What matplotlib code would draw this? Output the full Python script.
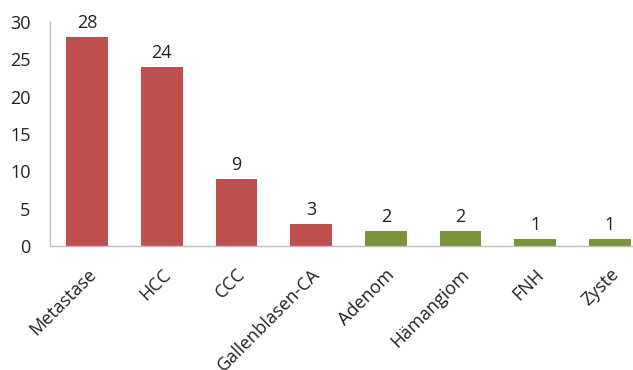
import matplotlib
matplotlib.use("Agg")
import matplotlib.pyplot as plt
from matplotlib.transforms import ScaledTranslation

categories = ["Metastase", "HCC", "CCC", "Gallenblasen-CA", "Adenom", "Hämangiom", "FNH", "Zyste"]
values = [28, 24, 9, 3, 2, 2, 1, 1]
colors = ["#C0504D", "#C0504D", "#C0504D", "#C0504D", "#77933C", "#77933C", "#77933C", "#77933C"]
yticks = [0, 5, 10, 15, 20, 25, 30]

plt.rcParams['font.family'] = ['Open Sans', 'DejaVu Sans']

fig = plt.figure(figsize=(6.33, 3.70), dpi=100)
ax = fig.add_axes([50/633, 124/370, 597/633, 224/370])
x = list(range(len(categories)))
bars = ax.bar(x, values, width=0.56, color=colors, zorder=2)
for xi, v in zip(x, values):
    ax.annotate(str(v), (xi, v), xytext=(0, 3.5), textcoords="offset points",
                ha="center", va="bottom", fontsize=13, color="#222222")
ax.set_xlim(-0.5, len(categories) - 0.5)
ax.set_ylim(0, 30)
ax.set_yticks(yticks)
ax.set_yticklabels([str(t) for t in yticks], fontsize=13, color="#222222")
ax.set_xticks(x)
ax.set_xticklabels(categories, rotation=45, ha="right", va="top",
                   rotation_mode="anchor", fontsize=13, color="#222222")
shift = ScaledTranslation(-5/100, 0, fig.dpi_scale_trans)
for lbl in ax.get_xticklabels():
    lbl.set_transform(lbl.get_transform() + shift)
ax.tick_params(axis="both", length=0)
ax.tick_params(axis="y", pad=14)
ax.tick_params(axis="x", pad=14)
for s in ["top", "right"]:
    ax.spines[s].set_visible(False)
for s in ["left", "bottom"]:
    ax.spines[s].set_color("#BFBFBF")
    ax.spines[s].set_linewidth(1)
fig.savefig("out.png", dpi=100)
